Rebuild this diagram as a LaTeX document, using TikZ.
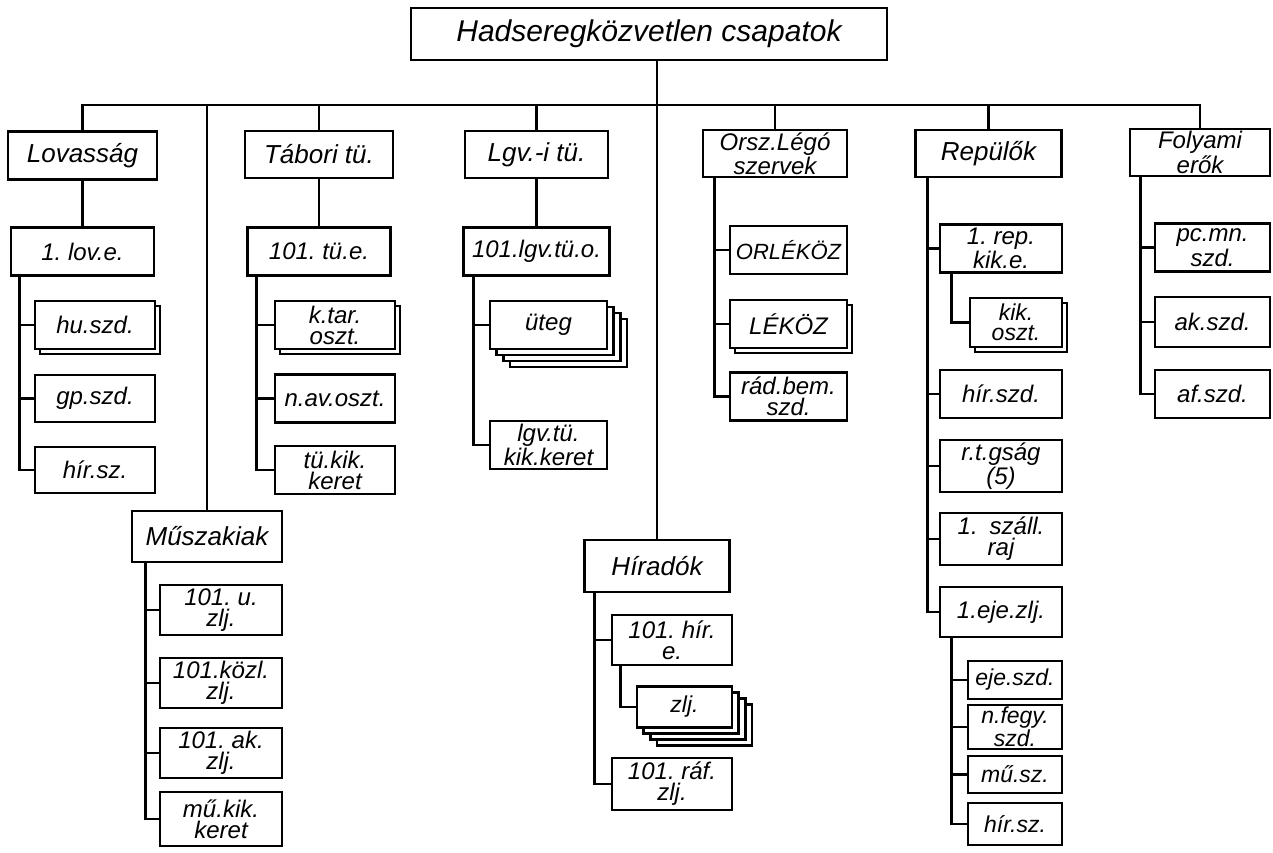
\documentclass[tikz,border=0pt]{standalone}
\usepackage{fontspec}
\setmainfont{Liberation Sans}
\frenchspacing
\usetikzlibrary{shadows}
\tikzset{
	box/.style={draw, fill=white, line width=1.3pt, align=center, inner sep=1pt}, % every unit box
	head/.style={box, minimum width=73pt, minimum height=23.5pt, font=\itshape\fontsize{13}{11}\selectfont},
	unit/.style={box, minimum width=60pt, minimum height=24pt, font=\itshape\fontsize{12}{10.5}\selectfont},
	subunit/.style={box, minimum width=47pt, minimum height=20pt, font=\itshape\fontsize{11.5}{10}\selectfont},
	twice/.style={copy shadow={shadow xshift=2.5pt, shadow yshift=-2.5pt, line width=1.3pt}}, % two of a kind
	fourfold/.style={copy shadow={shadow xshift=9.9pt, shadow yshift=-9pt, line width=1.3pt},
		copy shadow={shadow xshift=6.6pt, shadow yshift=-6pt, line width=1.3pt},
		copy shadow={shadow xshift=3.3pt, shadow yshift=-3pt, line width=1.3pt}},
	link/.style={line width=1.4pt},
}
\begin{document}
\begin{tikzpicture}[x=0.5pt, y=-0.5pt]
	\useasboundingbox (0,0) rectangle (1273,852);
	% top
	\node[box, minimum width=238pt, minimum height=26pt, font=\itshape\fontsize{15}{15}\selectfont] (hq) at (649,34) {Hadseregközvetlen csapatok};
	\coordinate (bus) at (657,105);
	% branch heads
	\node[head, minimum width=74.5pt, minimum height=24pt] (lov) at (82.5,155.5) {Lovasság};
	\node[head, minimum width=74pt] (tab) at (319,154.5) {Tábori tü.};
	\node[head, minimum width=71.5pt] (lgv) at (536.5,154.5) {Lgv.-i tü.};
	\node[head, minimum width=72pt, font=\itshape\fontsize{12}{10.5}\selectfont] (orsz) at (775,153.5) {Orsz.Légó\\szervek};
	\node[head] (rep) at (988.5,153.5) {Repülők};
	\node[head, minimum width=70pt, font=\itshape\fontsize{12}{9.5}\selectfont] (foly) at (1200,152.5) {Folyami\\erők};
	\node[head, minimum width=75pt, minimum height=25.5pt] (musz) at (207,536.5) {Műszakiak};
	\node[head, minimum width=72.5pt, minimum height=26pt] (hir) at (657,566) {Híradók};
	% Lovasság
	\node[unit, minimum width=71.5pt] (lov1) at (82.5,251.5) {1. lov.e.};
	\node[unit, twice] (husz) at (95,325) {hu.szd.};
	\node[unit, minimum height=23.5pt] (gp) at (95,398.5) {gp.szd.};
	\node[unit, minimum height=23pt] (lovhir) at (95,470) {hír.sz.};
	% Tábori tü.
	\node[unit, minimum width=71.5pt] (tab1) at (319,251.5) {101. tü.e.};
	\node[unit, twice] (ktar) at (335,325) {k.tar.\\oszt.};
	\node[unit] (nav) at (335,398.5) {n.av.oszt.};
	\node[unit] (tukik) at (335,470) {tü.kik.\\keret};
	% Lgv.-i tü.
	\node[unit, minimum width=73pt] (lgv1) at (536.5,251.5) {101.lgv.tü.o.};
	\node[unit, minimum width=58.5pt, fourfold] (uteg) at (548.5,325) {üteg};
	\node[unit, minimum width=58.5pt] (lgvkik) at (548.5,445) {lgv.tü.\\kik.keret};
	% Orsz. Légó
	\node[unit, minimum width=58.5pt, font=\itshape\fontsize{11}{11}\selectfont] (orlekoz) at (788.5,250) {ORLÉKÖZ};
	\node[unit, minimum width=58.5pt, twice] (lekoz) at (788.5,324) {LÉKÖZ};
	\node[unit, minimum width=58.5pt] (radbem) at (788.5,396.5) {rád.bem.\\szd.};
	% Repülők
	\node[unit, minimum width=61pt] (repkik) at (1001,248.5) {1. rep.\\kik.e.};
	\node[subunit, minimum width=46pt, minimum height=24.5pt, twice] (kikoszt) at (1016,322.5) {kik.\\oszt.};
	\node[unit, minimum width=61pt] (repszd) at (1001,394) {hír.szd.};
	\node[unit, minimum width=61pt, minimum height=26pt] (rtg) at (1001,466) {r.t.gság\\(5)};
	\node[unit, minimum width=61pt, minimum height=26pt] (szall) at (1001,539) {1.\enspace száll.\\raj};
	\node[unit, minimum width=61pt, minimum height=25pt] (eje) at (1001,612) {1.eje.zlj.};
	\node[subunit, minimum height=19pt] (ejeszd) at (1015,680) {eje.szd.};
	\node[subunit, minimum height=19pt] (nfegy) at (1015,727) {n.fegy.\\szd.};
	\node[subunit, minimum height=18.5pt] (muszsz) at (1015,774.5) {mű.sz.};
	\node[subunit, minimum height=21pt] (ejehir) at (1015,824) {hír.sz.};
	% Folyami erők
	\node[unit, minimum width=57.5pt] (pcmn) at (1212.5,247.5) {pc.mn.\\szd.};
	\node[unit, minimum width=57.5pt, minimum height=25pt] (ak) at (1212.5,322) {ak.szd.};
	\node[unit, minimum width=57.5pt] (af) at (1212.5,394) {af.szd.};
	% Műszakiak
	\node[unit, minimum width=61pt, minimum height=25pt] (uzlj) at (221,610) {101. u.\\zlj.};
	\node[unit, minimum width=61pt, minimum height=25pt] (kozl) at (221,683) {101.közl.\\zlj.};
	\node[unit, minimum width=61pt, minimum height=25pt] (akzlj) at (221,753) {101. ak.\\zlj.};
	\node[unit, minimum width=61pt, minimum height=27pt] (mukik) at (221,819) {mű.kik.\\keret};
	% Híradók
	\node[unit, minimum height=25pt] (hire) at (672,640) {101. hír.\\e.};
	\node[subunit, minimum width=47.5pt, minimum height=20.5pt, fourfold] (zlj) at (684.5,707) {zlj.};
	\node[unit, minimum height=26pt] (raf) at (672,784) {101. ráf.\\zlj.};

	% connectors
	\draw[link] ([xshift=4pt]hq.south) -- (bus);
	\foreach \n in {lov,musz,tab,lgv,orsz,rep,foly}
		\draw[link] (\n.north) |- (bus);
	\draw[link] (bus) -- (bus |- hir.north);
	\draw[link] (lov) -- (lov1);
	\draw[link] (tab) -- (tab1);
	\draw[link] (lgv) -- (lgv1);
	\foreach \n in {husz,gp,lovhir}
		\draw[link] (\n.west) -| ([xshift=5pt]lov1.south west);
	\foreach \n in {ktar,nav,tukik}
		\draw[link] (\n.west) -| ([xshift=5pt]tab1.south west);
	\foreach \n in {uteg,lgvkik}
		\draw[link] (\n.west) -| ([xshift=5.5pt]lgv1.south west);
	\foreach \n in {orlekoz,lekoz,radbem}
		\draw[link] (\n.west) -| ([xshift=6.5pt]orsz.south west);
	\foreach \n in {repkik,repszd,rtg,szall,eje}
		\draw[link] (\n.west) -| ([xshift=6.5pt]rep.south west);
	\draw[link] (kikoszt.west) -| ([xshift=6.5pt]repkik.south west);
	\foreach \n in {ejeszd,nfegy,muszsz,ejehir}
		\draw[link] (\n.west) -| ([xshift=6.5pt]eje.south west);
	\foreach \n in {pcmn,ak,af}
		\draw[link] (\n.west) -| ([xshift=6pt]foly.south west);
	\foreach \n in {uzlj,kozl,akzlj,mukik}
		\draw[link] (\n.west) -| ([xshift=7.5pt]musz.south west);
	\foreach \n in {hire,raf}
		\draw[link] (\n.west) -| ([xshift=5.75pt]hir.south west);
	\draw[link] (zlj.west) -| ([xshift=5pt]hire.south west);
\end{tikzpicture}
\end{document}
